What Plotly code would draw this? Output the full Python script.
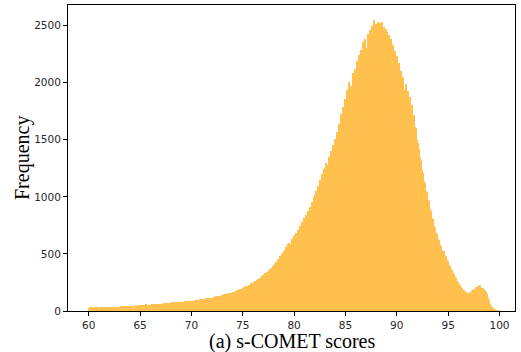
import numpy as np
import plotly.graph_objects as go

# s-COMET score histogram: bins of width 0.1 from 60.0 to 100.0
bin_start = 60.0
bin_width = 0.1
frequency = [
    26, 31, 29, 33, 28, 30, 34, 27, 31, 32,
    30, 33, 35, 31, 29, 34, 32, 36, 33, 31,
    35, 33, 37, 34, 36, 38, 35, 39, 37, 36,
    38, 41, 37, 40, 42, 39, 43, 41, 44, 42,
    43, 46, 44, 48, 45, 47, 50, 46, 49, 51,
    48, 52, 50, 54, 51, 57, 53, 55, 52, 56,
    55, 58, 56, 60, 57, 59, 62, 58, 61, 63,
    62, 65, 63, 67, 66, 69, 67, 71, 70, 72,
    73, 76, 74, 78, 75, 79, 77, 80, 78, 82,
    80, 83, 81, 85, 84, 86, 83, 88, 86, 89,
    88, 92, 90, 95, 93, 97, 94, 99, 101, 98,
    102, 106, 103, 109, 111, 107, 114, 112, 117, 115,
    118, 123, 121, 128, 125, 131, 127, 135, 133, 139,
    140, 145, 142, 150, 147, 155, 152, 158, 162, 159,
    163, 170, 166, 175, 181, 177, 186, 192, 188, 197,
    199, 207, 203, 215, 222, 218, 232, 229, 243, 247,
    251, 262, 256, 272, 279, 270, 292, 288, 305, 311,
    316, 331, 324, 345, 340, 363, 357, 381, 375, 398,
    405, 412, 428, 421, 452, 446, 478, 470, 501, 509,
    528, 536, 560, 552, 585, 598, 590, 628, 619, 660,
    665, 684, 676, 712, 705, 748, 739, 776, 770, 812,
    815, 840, 833, 878, 868, 915, 902, 958, 947, 1002,
    1012, 1050, 1038, 1098, 1085, 1147, 1130, 1198, 1182, 1245,
    1250, 1295, 1278, 1348, 1330, 1402, 1385, 1452, 1440, 1508,
    1502, 1565, 1548, 1640, 1618, 1725, 1698, 1790, 1768, 1860,
    1852, 1935, 1870, 2005, 1930, 1968, 1945, 2085, 2010, 2120,
    2080, 2190, 2120, 2245, 2170, 2290, 2225, 2360, 2265, 2380,
    2300, 2430, 2340, 2465, 2370, 2495, 2400, 2553, 2420, 2510,
    2395, 2535, 2430, 2520, 2385, 2530, 2410, 2490, 2370, 2470,
    2440, 2345, 2420, 2310, 2385, 2270, 2330, 2225, 2280, 2170,
    2230, 2120, 2175, 2055, 2105, 1990, 2050, 1935, 1985, 1880,
    1925, 1830, 1870, 1760, 1800, 1715, 1720, 1610, 1600, 1500,
    1470, 1420, 1345, 1310, 1238, 1210, 1140, 1125, 1055, 1040,
    975, 962, 895, 880, 812, 805, 745, 730, 682, 675,
    632, 625, 580, 572, 535, 528, 490, 480, 448, 438,
    405, 398, 365, 358, 330, 325, 296, 290, 262, 255,
    240, 226, 212, 202, 186, 183, 170, 168, 160, 155,
    152, 162, 166, 178, 182, 195, 197, 206, 210, 218,
    212, 225, 205, 202, 186, 182, 166, 148, 118, 95,
    60, 46, 31, 24, 15, 11, 7, 4, 2, 1,
]
x_ticks = [60, 65, 70, 75, 80, 85, 90, 95, 100]
y_ticks = [0, 500, 1000, 1500, 2000, 2500]
x_title = "(a) s-COMET scores"
y_title = "Frequency"

bin_left = np.round(bin_start + bin_width * np.arange(len(frequency)), 2)

fig = go.Figure(
    go.Bar(
        x=bin_left,
        y=frequency,
        width=bin_width,
        offset=0,
        marker=dict(color="rgb(255,192,77)", line=dict(width=0)),
        hoverinfo="x+y",
    )
)

tick_font = dict(family="DejaVu Sans", size=10.5, color="#262626")
axis_style = dict(
    ticks="outside",
    ticklen=4,
    tickwidth=1,
    tickcolor="black",
    showgrid=False,
    zeroline=False,
    showline=True,
    linecolor="black",
    linewidth=1,
    mirror=True,
    tickfont=tick_font,
)
fig.update_layout(
    width=521,
    height=352,
    margin=dict(l=68, r=6, t=5, b=41),
    plot_bgcolor="white",
    paper_bgcolor="white",
    bargap=0,
    showlegend=False,
    xaxis=dict(range=[57.98, 101.51], tickvals=x_ticks, **axis_style),
    yaxis=dict(range=[0, 2680], tickvals=y_ticks, **axis_style),
    annotations=[
        dict(
            text=x_title,
            xref="paper", yref="paper",
            x=0.5, y=0,
            xanchor="center", yanchor="middle",
            yshift=-30,
            showarrow=False,
            font=dict(family="Liberation Serif", size=20, color="black"),
        ),
        dict(
            text=y_title,
            xref="paper", yref="paper",
            x=0, y=0.5,
            xanchor="center", yanchor="middle",
            xshift=-46,
            textangle=-90,
            showarrow=False,
            font=dict(family="Liberation Serif", size=20, color="black"),
        ),
    ],
)

fig.write_html(
    "out.html",
    config={"displayModeBar": False},
    post_script="document.body.style.margin='0';document.body.style.overflow='hidden';",
)
